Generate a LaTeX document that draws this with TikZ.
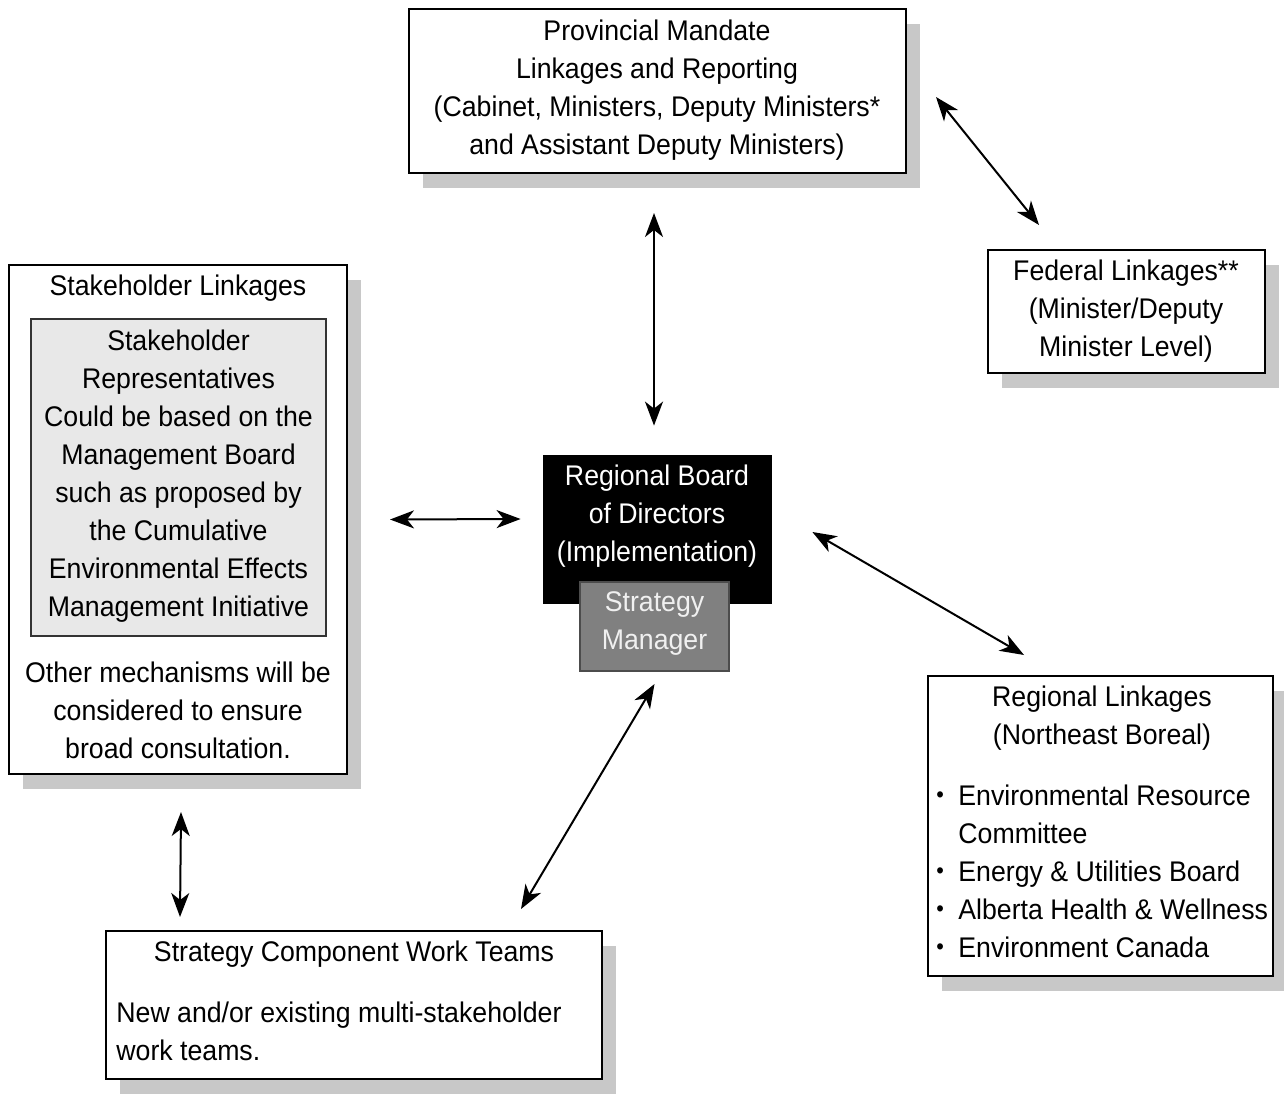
\documentclass[tikz,border=0pt]{standalone}
\usepackage{fontspec}
\setmainfont[FakeStretch=0.94]{Liberation Sans}
\usetikzlibrary{arrows.meta,shadows,calc}
\definecolor{shadowgray}{RGB}{200,200,200}
\definecolor{innergray}{RGB}{232,232,232}
\definecolor{mgrgray}{RGB}{128,128,128}
\definecolor{mgrtext}{RGB}{240,240,240}
\newcommand\mybul{\makebox[11pt][l]{\raisebox{1.2pt}{\fontsize{11.5}{11.5}\selectfont\textbullet}}}
\begin{document}
\begin{tikzpicture}[x=0.5pt,y=-0.5pt,
  box/.style={draw=black, line width=1pt, fill=white, inner sep=0pt,
    drop shadow={shadow xshift=7pt, shadow yshift=-7.5pt, fill=shadowgray, opacity=1}},
  txt/.style={align=center, font=\fontsize{14.2}{19}\selectfont, inner sep=0pt},
  ltxt/.style={align=left, font=\fontsize{14.2}{19}\selectfont, inner sep=0pt},
  arr/.style={line width=1pt, {Stealth[length=12pt,width=9pt,inset=3.5pt]}-{Stealth[length=12pt,width=9pt,inset=3.5pt]}}
]
\useasboundingbox (0,0) rectangle (1284,1097);

% boxes
\node[box, minimum width=248.5pt, minimum height=82pt] (prov) at (657.5,91) {};
\node[box, minimum width=138.5pt, minimum height=61.5pt] (fed) at (1126.5,311.5) {};
\node[box, minimum width=169pt, minimum height=254.5pt] (stake) at (178,519.5) {};
\node[box, minimum width=172.5pt, minimum height=150pt] (reg) at (1100.5,826) {};
\node[box, minimum width=248pt, minimum height=74pt] (work) at (354,1005) {};

\node[draw=black!80, line width=1pt, fill=innergray, inner sep=0pt,
  minimum width=147.5pt, minimum height=158.5pt] (inner) at (178.5,477.5) {};
\node[draw=black, fill=black, inner sep=0pt,
  minimum width=114pt, minimum height=74pt] (board) at (657,529) {};
\node[draw=black!70, line width=1pt, fill=mgrgray, inner sep=0pt,
  minimum width=74.5pt, minimum height=44.5pt] (mgr) at (654.5,626.5) {};

% texts
\node[txt] (provt) at (657,90) {Provincial Mandate\\Linkages and Reporting\\(Cabinet, Ministers, Deputy Ministers*\\and Assistant Deputy Ministers)};
\node[txt] (fedt) at (1126,311) {Federal Linkages**\\(Minister/Deputy\\Minister Level)};
\node[txt] (staket) at (178,288) {Stakeholder Linkages};
\node[txt] (innert) at (178.5,476) {Stakeholder\\Representatives\\Could be based on the\\Management Board\\such as proposed by\\the Cumulative\\Environmental Effects\\Management Initiative};
\node[txt] (othert) at (178,710) {Other mechanisms will be\\considered to ensure\\broad consultation.};
\node[txt, text=white] (boardt) at (657,516) {Regional Board\\of Directors\\(Implementation)};
\node[txt, text=mgrtext] (mgrt) at (654.5,624) {Strategy\\Manager};
\node[txt] (regt) at (1102,718) {Regional Linkages\\(Northeast Boreal)};
\node[ltxt, anchor=west] (regl) at (936,871) {\mybul Environmental Resource\\
  \hphantom{\mybul}Committee\\
  \mybul Energy \& Utilities Board\\
  \mybul Alberta Health \& Wellness\\
  \mybul Environment Canada};
\node[txt] (workt) at (354,954) {Strategy Component Work Teams};
\node[ltxt, anchor=west] (workb) at (116,1031) {New and/or existing multi-stakeholder\\work teams.};

% connectors
\draw[arr] ($(prov.south)+(-3.5,39)$) -- ($(board.north)+(-3,-29)$);
\draw[arr] ($(stake.east)+(42,0)$) -- ($(board.west)+(-22,-10)$);
\draw[arr] ($(prov.east)+(29,6)$) -- ($(fed.north west)+(52,-24)$);
\draw[arr] ($(board.east)+(41,3)$) -- ($(reg.north west)+(97,-20)$);
\draw[arr] ($(mgr.south)+(0,12)$) -- ($(work.north east)+(-82,-21)$);
\draw[arr] ($(stake.south)+(3,37)$) -- ($(work.north west)+(75,-13)$);
\end{tikzpicture}
\end{document}
